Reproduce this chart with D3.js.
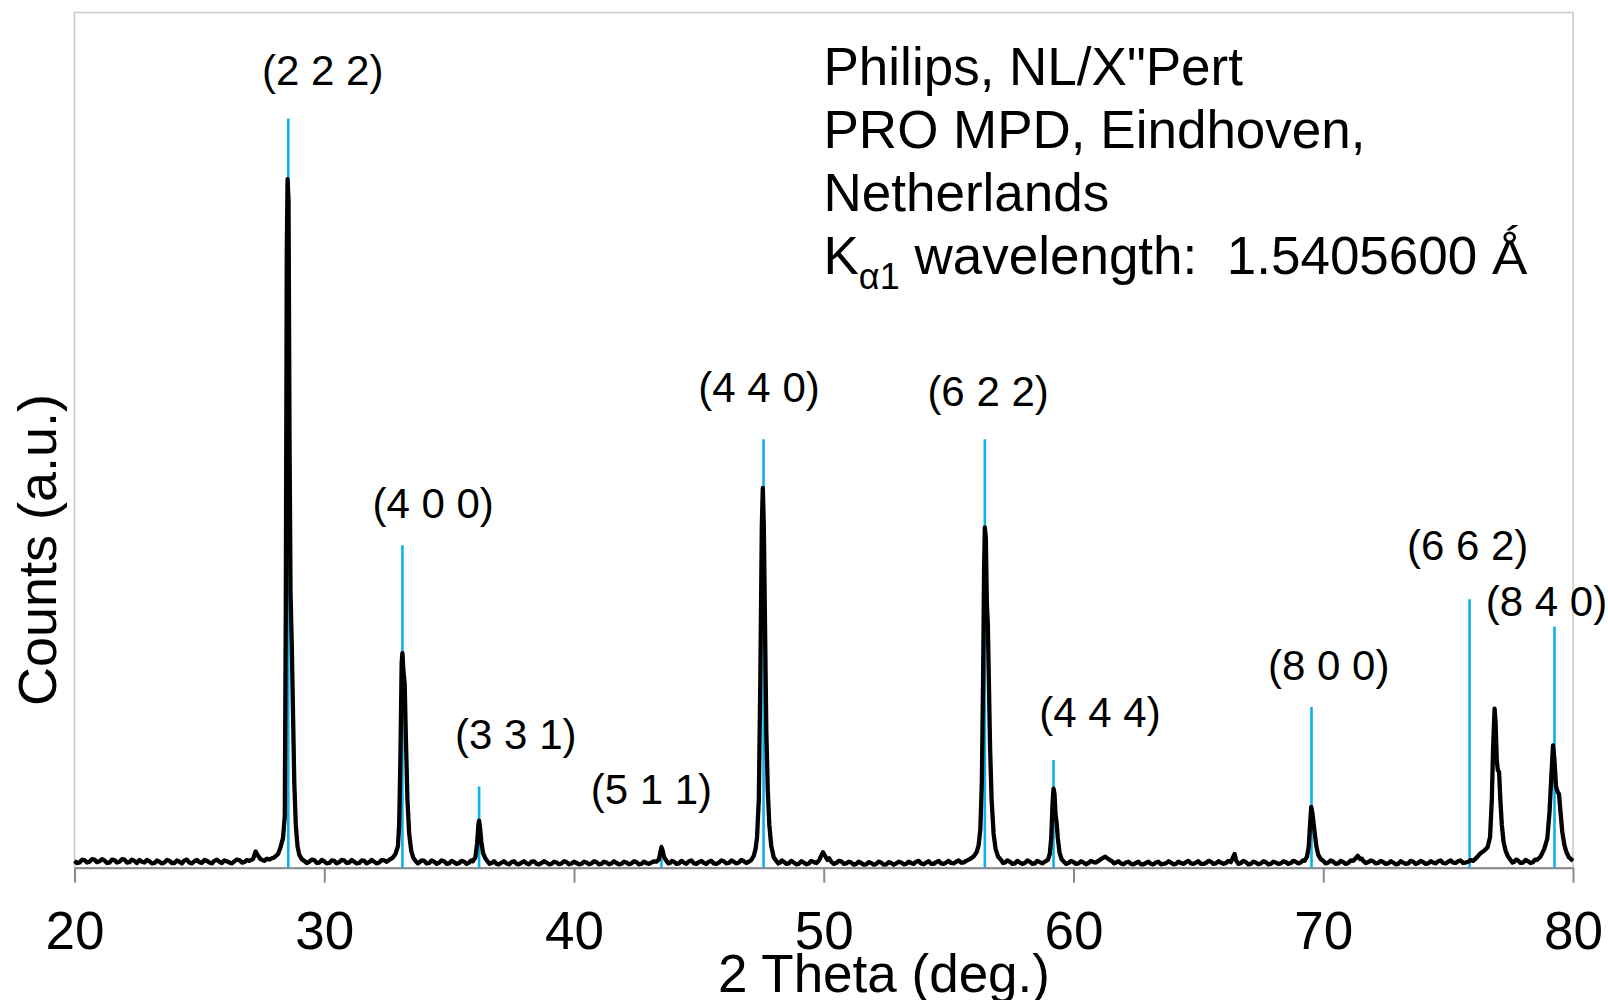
<!DOCTYPE html>
<html>
<head>
<meta charset="utf-8">
<script src="https://cdn.jsdelivr.net/npm/d3@7"></script>
<style>
  body { margin: 0; background: #fff; }
  svg { display: block; font-family: "Liberation Sans", Arial, sans-serif; }
  text { white-space: pre; }
</style>
</head>
<body>
<svg id="chart" width="1608" height="1000"></svg>
<script>
// measured scan: [2 theta (deg), counts (a.u.)]
var scan = [
  [20.0,0.8],[20.1,0.55],[20.2,0.6],[20.3,0.95],[20.4,0.9],[20.5,0.6],[20.6,0.7],[20.7,1.0],[20.8,0.95],[20.9,0.65],[21.0,0.75],[21.1,1.0],[21.2,0.85],[21.3,0.55],[21.4,0.6],[21.5,0.95],[21.6,0.9],[21.7,0.6],[21.8,0.7],[21.9,1.0],
  [22.0,0.95],[22.1,0.6],[22.2,0.65],[22.3,0.95],[22.4,0.8],[22.5,0.55],[22.6,0.9],[22.7,0.7],[22.8,0.6],[22.9,0.9],[23.0,0.75],[23.1,0.5],[23.2,0.55],[23.3,0.85],[23.4,0.7],[23.5,0.5],[23.6,0.6],[23.7,0.9],[23.8,0.8],[23.9,0.55],
  [24.0,0.55],[24.1,0.85],[24.2,0.7],[24.3,0.5],[24.4,0.85],[24.5,0.95],[24.6,0.6],[24.7,0.5],[24.8,0.75],[24.9,0.9],[25.0,0.65],[25.1,0.55],[25.2,0.9],[25.3,0.8],[25.4,0.6],[25.5,0.5],[25.6,0.8],[25.7,0.95],[25.8,0.7],[25.9,0.55],
  [26.0,0.85],[26.1,0.75],[26.2,0.6],[26.3,0.5],[26.4,0.75],[26.5,0.95],[26.6,0.9],[26.7,0.6],[26.8,0.65],[26.9,0.9],[27.0,0.8],[27.15,1.0],[27.25,1.9],[27.35,1.4],[27.45,1.0],
  [27.6,0.8],[27.7,1.05],[27.8,0.95],[27.9,1.1],[28.0,1.2],[28.15,1.6],[28.25,2.4],[28.35,3.5],[28.42,6],[28.46,30],[28.5,72],[28.53,80.5],
  [28.57,78],[28.61,50],[28.65,32],[28.7,26],[28.75,18],[28.8,10],[28.86,5],[28.93,2.5],[29.0,1.5],[29.1,1.0],
  [29.2,0.8],[29.3,0.55],[29.4,0.7],[29.5,0.95],[29.6,0.9],[29.7,0.55],[29.8,0.6],[29.9,0.9],[30.0,0.75],[30.1,0.5],[30.2,0.55],[30.3,0.85],[30.4,0.8],[30.5,0.5],[30.6,0.65],[30.7,0.9],[30.8,0.85],[30.9,0.55],[31.0,0.6],
  [31.1,0.9],[31.2,0.7],[31.3,0.5],[31.4,0.55],[31.5,0.85],[31.6,0.8],[31.7,0.5],[31.8,0.65],[31.9,0.9],[32.0,0.7],[32.1,0.5],[32.2,0.6],[32.3,0.9],[32.4,0.85],[32.5,0.7],[32.6,0.9],[32.75,1.2],[32.85,1.6],
  [32.95,2.5],[33.0,5],[33.05,13],[33.1,24],[33.13,25.1],[33.17,23],[33.22,21.5],[33.27,15],[33.33,8],[33.4,4],
  [33.48,2],[33.56,1.2],[33.65,0.8],[33.75,0.5],[33.8,0.6],[33.9,0.85],[34.0,0.8],[34.1,0.5],[34.2,0.55],[34.3,0.85],[34.4,0.7],[34.5,0.45],[34.6,0.6],[34.7,0.85],[34.8,0.75],[34.9,0.45],[35.0,0.5],
  [35.1,0.8],[35.2,0.65],[35.3,0.45],[35.4,0.55],[35.5,0.8],[35.6,0.7],[35.7,0.45],[35.8,0.6],[35.88,0.85],[35.95,0.75],[36.05,1.2],[36.12,2.8],[36.17,5.0],[36.2,5.5],[36.24,4.6],
  [36.29,3.0],[36.36,1.7],[36.45,1.1],[36.55,0.7],[36.62,0.45],[36.7,0.55],[36.8,0.75],[36.9,0.45],[37.0,0.4],[37.1,0.6],[37.2,0.75],[37.3,0.5],[37.4,0.4],[37.5,0.65],[37.6,0.75],[37.7,0.45],
  [37.8,0.4],[37.9,0.6],[38.0,0.75],[38.1,0.5],[38.2,0.4],[38.3,0.7],[38.4,0.75],[38.5,0.45],[38.6,0.4],[38.7,0.55],[38.8,0.75],[38.9,0.6],[39.0,0.4],[39.1,0.45],[39.2,0.7],[39.3,0.6],[39.4,0.4],[39.5,0.5],[39.6,0.75],[39.7,0.65],
  [39.8,0.4],[39.9,0.5],[40.0,0.7],[40.1,0.55],[40.2,0.4],[40.3,0.45],[40.4,0.7],[40.5,0.6],[40.6,0.4],[40.7,0.5],[40.8,0.75],[40.9,0.65],[41.0,0.4],[41.1,0.45],[41.2,0.7],[41.3,0.6],[41.4,0.4],[41.5,0.5],[41.6,0.75],[41.7,0.55],
  [41.8,0.4],[41.9,0.45],[42.0,0.7],[42.1,0.6],[42.2,0.4],[42.3,0.5],[42.4,0.75],[42.5,0.65],[42.6,0.4],[42.7,0.45],[42.8,0.7],[42.9,0.55],[43.0,0.45],[43.1,0.6],[43.2,0.75],[43.3,0.7],[43.4,1.0],[43.46,1.8],
  [43.5,2.4],[43.55,2.0],[43.6,1.3],[43.7,0.8],[43.78,0.5],[43.85,0.55],[43.92,0.8],[44.0,0.7],[44.1,0.45],[44.2,0.5],[44.3,0.8],[44.4,0.6],[44.5,0.45],[44.6,0.75],[44.7,0.85],[44.8,0.5],
  [44.9,0.45],[45.0,0.65],[45.1,0.8],[45.2,0.55],[45.3,0.45],[45.4,0.7],[45.5,0.8],[45.6,0.5],[45.7,0.45],[45.8,0.6],[45.9,0.85],[46.0,0.75],[46.1,0.5],[46.2,0.55],[46.3,0.85],[46.4,0.7],[46.5,0.5],[46.6,0.6],[46.7,0.9],[46.8,0.75],
  [46.9,0.55],[47.0,0.7],[47.1,0.9],[47.2,1.4],[47.27,2.2],[47.33,3.6],[47.4,8],[47.46,22],[47.52,40],[47.56,44.4],[47.6,40],
  [47.65,28],[47.7,16],[47.76,9],[47.82,5],[47.9,2.5],[48.0,1.2],[48.1,0.8],[48.18,0.5],[48.25,0.6],[48.32,0.85],[48.4,0.7],[48.5,0.45],[48.6,0.5],[48.7,0.8],
  [48.8,0.6],[48.9,0.4],[49.0,0.45],[49.1,0.75],[49.2,0.6],[49.3,0.4],[49.4,0.5],[49.5,0.8],[49.6,0.65],[49.7,0.55],[49.8,0.8],[49.9,1.4],[49.97,1.8],[50.05,1.4],[50.15,0.9],
  [50.22,1.1],[50.3,0.7],[50.4,0.45],[50.5,0.55],[50.6,0.8],[50.7,0.75],[50.8,0.45],[50.9,0.5],[51.0,0.7],[51.1,0.6],[51.2,0.35],[51.3,0.45],[51.4,0.7],[51.5,0.55],[51.6,0.35],[51.7,0.4],[51.8,0.65],[51.9,0.55],[52.0,0.35],[52.1,0.45],
  [52.2,0.7],[52.3,0.6],[52.4,0.35],[52.5,0.4],[52.6,0.65],[52.7,0.55],[52.8,0.35],[52.9,0.5],[53.0,0.7],[53.1,0.6],[53.2,0.4],[53.3,0.45],[53.4,0.7],[53.5,0.55],[53.6,0.45],[53.7,0.7],[53.8,0.8],[53.9,0.5],[54.0,0.4],[54.1,0.6],
  [54.2,0.75],[54.3,0.45],[54.4,0.45],[54.5,0.65],[54.6,0.8],[54.7,0.5],[54.8,0.45],[54.9,0.6],[55.0,0.8],[55.1,0.55],[55.2,0.5],[55.3,0.7],[55.4,0.85],[55.5,0.6],[55.6,0.6],[55.7,0.8],[55.85,1.0],[56.0,1.3],
  [56.12,1.8],[56.2,2.6],[56.27,4.5],[56.33,10],[56.38,22],[56.42,35],[56.45,39.8],[56.49,38.5],[56.53,31],[56.57,28.5],
  [56.61,22],[56.66,14],[56.72,8],[56.8,4],[56.88,2.2],[56.98,1.3],[57.1,0.9],[57.18,0.55],[57.25,0.6],[57.35,0.85],[57.45,0.7],[57.55,0.45],[57.65,0.5],[57.75,0.8],
  [57.85,0.6],[57.95,0.45],[58.05,0.55],[58.15,0.85],[58.25,0.7],[58.35,0.45],[58.45,0.5],[58.55,0.8],[58.65,0.65],[58.75,0.5],[58.85,0.7],[58.97,0.9],[59.05,1.6],[59.11,3.5],[59.16,7.5],
  [59.2,9.25],[59.24,8.6],[59.28,6.2],[59.32,5.4],[59.37,3.5],[59.44,1.8],[59.52,1.0],[59.62,0.7],[59.7,0.45],[59.8,0.55],[59.9,0.8],[60.0,0.65],
  [60.1,0.45],[60.2,0.5],[60.3,0.75],[60.4,0.6],[60.5,0.4],[60.6,0.55],[60.7,0.8],[60.8,0.65],[60.9,0.6],[61.0,0.8],[61.15,1.1],[61.27,1.3],[61.4,1.0],[61.55,0.75],[61.62,0.5],[61.7,0.6],
  [61.8,0.75],[61.9,0.5],[62.0,0.4],[62.1,0.6],[62.2,0.7],[62.3,0.45],[62.4,0.4],[62.5,0.55],[62.6,0.7],[62.7,0.4],[62.8,0.4],[62.9,0.55],[63.0,0.7],[63.1,0.45],[63.2,0.4],[63.3,0.6],[63.4,0.7],[63.5,0.4],[63.6,0.45],[63.7,0.5],
  [63.8,0.75],[63.9,0.6],[64.0,0.4],[64.1,0.45],[64.2,0.7],[64.3,0.55],[64.4,0.45],[64.5,0.65],[64.6,0.8],[64.7,0.5],[64.8,0.45],[64.9,0.6],[65.0,0.75],[65.1,0.45],[65.2,0.45],[65.3,0.55],[65.4,0.8],[65.5,0.7],[65.6,0.45],[65.7,0.5],
  [65.8,0.75],[65.9,0.6],[66.0,0.45],[66.1,0.55],[66.2,0.8],[66.3,0.65],[66.4,1.3],[66.45,1.6],[66.52,0.8],[66.6,0.45],[66.7,0.55],[66.8,0.8],[66.9,0.65],[67.0,0.4],[67.1,0.45],[67.2,0.7],[67.3,0.6],
  [67.4,0.4],[67.5,0.5],[67.6,0.75],[67.7,0.65],[67.8,0.4],[67.9,0.45],[68.0,0.7],[68.1,0.6],[68.2,0.45],[68.3,0.5],[68.4,0.75],[68.5,0.65],[68.6,0.45],[68.7,0.55],[68.8,0.8],[68.9,0.7],[69.0,0.5],[69.1,0.6],[69.18,0.85],[69.25,0.8],
  [69.35,1.3],[69.42,2.5],[69.47,5],[69.52,7.1],[69.57,6.3],[69.62,5],[69.67,3.8],[69.73,2.4],[69.8,1.5],[69.9,1.0],
  [70.0,0.8],[70.1,0.5],[70.2,0.6],[70.3,0.85],[70.4,0.7],[70.5,0.45],[70.6,0.5],[70.7,0.8],[70.8,0.65],[70.9,0.45],[71.0,0.55],[71.1,0.85],[71.2,0.8],[71.3,1.1],[71.38,1.4],[71.48,1.0],
  [71.55,1.05],[71.6,0.8],[71.7,0.55],[71.8,0.65],[71.9,0.85],[72.0,0.75],[72.1,0.5],[72.2,0.55],[72.3,0.8],[72.4,0.65],[72.5,0.45],[72.6,0.5],[72.7,0.75],[72.8,0.6],[72.9,0.4],[73.0,0.45],[73.1,0.75],[73.2,0.6],[73.3,0.45],[73.4,0.5],
  [73.5,0.8],[73.6,0.7],[73.7,0.45],[73.8,0.55],[73.9,0.8],[74.0,0.65],[74.1,0.45],[74.2,0.5],[74.3,0.75],[74.4,0.6],[74.5,0.5],[74.6,0.75],[74.7,0.85],[74.8,0.55],[74.9,0.5],[75.0,0.7],[75.1,0.85],[75.2,0.6],[75.3,0.55],[75.4,0.75],
  [75.5,0.85],[75.6,0.55],[75.7,0.6],[75.8,0.7],[75.9,0.9],[76.0,0.8],[76.15,1.2],[76.3,1.7],[76.45,2.0],[76.58,2.4],[76.68,3.6],[76.75,8],[76.8,14],
  [76.86,18.6],[76.9,17],[76.95,12.5],[76.99,11.4],[77.04,11.2],[77.09,8],[77.15,5],[77.22,3],[77.3,2.0],[77.4,1.3],
  [77.5,0.9],[77.58,0.6],[77.65,0.7],[77.72,0.95],[77.8,0.85],[77.9,0.55],[78.0,0.6],[78.1,0.9],[78.2,0.75],[78.3,0.55],[78.4,0.65],[78.48,0.95],[78.55,0.9],[78.7,1.3],[78.85,2.2],[78.97,3.4],
  [79.06,6.5],[79.13,10.5],[79.2,14.3],[79.26,12.5],[79.32,9.5],[79.38,8.9],[79.44,8.6],[79.5,6.5],[79.57,4.2],[79.65,2.7],
  [79.74,1.8],[79.84,1.2],[79.92,1.0],[80.0,0.8]
];

// reference reflections (blue sticks)
var refTheta = [28.56, 33.13, 36.2, 43.5, 47.59, 56.45, 59.2, 69.53, 75.86, 79.26];
var refCounts = [87.6, 37.7, 9.5, 2.7, 50.1, 50.1, 12.6, 18.8, 31.4, 28.2];

// hkl labels and where they sit (centre theta, baseline counts)
var hklLabels = ["(2 2 2)", "(4 0 0)", "(3 3 1)", "(5 1 1)", "(4 4 0)", "(6 2 2)", "(4 4 4)", "(8 0 0)", "(6 6 2)", "(8 4 0)"];
var hklTheta = [29.94, 34.36, 37.67, 43.1, 47.41, 56.58, 61.06, 70.22, 75.78, 78.94];
var hklCounts = [91.5, 40.9, 13.9, 7.5, 54.5, 54.0, 16.5, 22.0, 36.0, 29.4];

var xTicks = [20, 30, 40, 50, 60, 70, 80];
var infoLines = ["Philips, NL/X\"Pert", "PRO MPD, Eindhoven,", "Netherlands"];

drawChart();

function drawChart() {
  var svg = d3.select("#chart");
  var plotLeft = 74.5, plotRight = 1573, plotTop = 12.5, plotBottom = 867.7;

  var x = d3.scaleLinear().domain([20, 80]).range([plotLeft, plotRight]);
  var y = d3.scaleLinear().domain([0, 100]).range([plotBottom, plotTop]);

  // plot frame
  svg.append("rect")
    .attr("x", plotLeft).attr("y", plotTop)
    .attr("width", plotRight - plotLeft).attr("height", plotBottom - plotTop)
    .attr("fill", "none")
    .attr("stroke", "#c8c8c8")
    .attr("stroke-width", 1.5);

  // x axis
  var xAxis = svg.append("g")
    .attr("transform", "translate(0," + plotBottom + ")")
    .call(d3.axisBottom(x).tickValues(xTicks).tickSize(15).tickSizeOuter(0).tickPadding(29));
  xAxis.select(".domain").attr("stroke", "#8a8a8a").attr("stroke-width", 2);
  xAxis.selectAll(".tick line").attr("stroke", "#8a8a8a").attr("stroke-width", 2);
  xAxis.selectAll(".tick text")
    .attr("fill", "#000")
    .style("font-size", "53px")
    .style("font-family", "\"Liberation Sans\", Arial, sans-serif");

  // reference sticks
  svg.append("g").selectAll("line")
    .data(refTheta)
    .enter().append("line")
    .attr("x1", d => x(d)).attr("x2", d => x(d))
    .attr("y1", y(0))
    .attr("y2", (d, i) => y(refCounts[i]))
    .attr("stroke", "#0fb0ee")
    .attr("stroke-width", 2.6);

  // measured pattern
  var line = d3.line()
    .x(d => x(d[0]))
    .y(d => y(d[1]));

  svg.append("path")
    .datum(scan)
    .attr("d", line)
    .attr("fill", "none")
    .attr("stroke", "#000")
    .attr("stroke-width", 4.3)
    .attr("stroke-linejoin", "round");

  // hkl labels
  svg.append("g").selectAll("text")
    .data(hklLabels)
    .enter().append("text")
    .attr("x", (d, i) => x(hklTheta[i]))
    .attr("y", (d, i) => y(hklCounts[i]))
    .attr("text-anchor", "middle")
    .style("font-size", "42px")
    .text(d => d);

  // instrument note
  var note = svg.append("g").style("font-size", "53px");
  note.selectAll("text.info")
    .data(infoLines)
    .enter().append("text")
    .attr("class", "info")
    .attr("x", 823.5)
    .attr("y", (d, i) => 85 + i * 63)
    .text(d => d);

  var kLine = note.append("text").attr("x", 823.5).attr("y", 85 + 3 * 63);
  kLine.append("tspan").text("K");
  kLine.append("tspan").attr("dy", 15).style("font-size", "36px").text("\u03b11");
  kLine.append("tspan").attr("dy", -15).text(" wavelength:  1.5405600 \u01fa");

  // axis titles
  svg.append("text")
    .attr("x", 884)
    .attr("y", 992)
    .attr("text-anchor", "middle")
    .style("font-size", "53px")
    .text("2 Theta (deg.)");

  svg.append("text")
    .attr("transform", "translate(56," + 550 + ") rotate(-90)")
    .attr("text-anchor", "middle")
    .style("font-size", "54px")
    .text("Counts (a.u.)");
}
</script>
</body>
</html>
